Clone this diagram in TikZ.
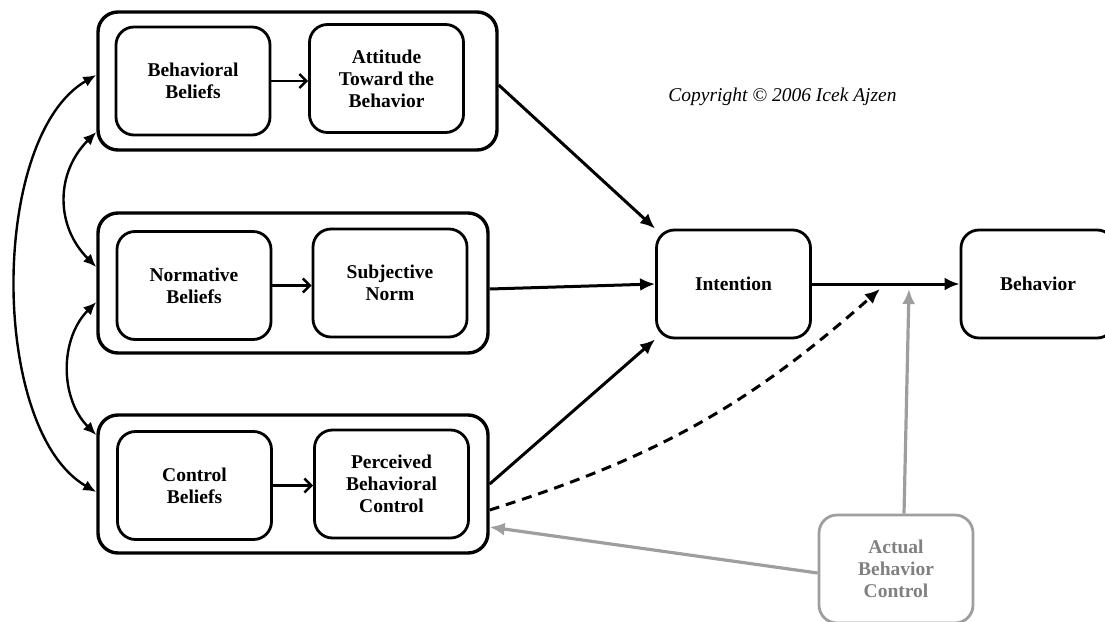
\documentclass[tikz,border=0pt]{standalone}
\usepackage{fontspec}
\setmainfont{Liberation Serif}
\usetikzlibrary{arrows.meta}
\definecolor{ActualGray}{RGB}{158,158,158}
\definecolor{ActualText}{RGB}{128,128,128}
\tikzset{
    GroupBox/.style={draw, line width=3.4pt, rounded corners=20pt},
    InnerBox/.style={draw, line width=2.8pt, rounded corners=18pt, align=center,
        minimum width=154pt, minimum height=108pt, inner sep=0pt,
        font=\bfseries\fontsize{19.5}{22}\selectfont},
    MainArrow/.style={line width=3pt, -{Latex[length=15pt,width=13pt]}},
    SmallArrow/.style={line width=2.4pt, -{Straight Barb[length=7pt,width=14pt]}},
    LinkArrow/.style={line width=2.4pt, {Latex[length=13pt,width=11pt]}-{Latex[length=13pt,width=11pt]}},
    GrayArrow/.style={line width=3.2pt, color=ActualGray, -{Latex[length=15pt,width=13pt]}}
}

\begin{document}
\begin{tikzpicture}[x=1pt,y=1pt]
    \useasboundingbox (0,0) rectangle (1105,-621);
    \node[GroupBox, minimum width=399pt, minimum height=138pt] (AttGroup) at (297.5,-81) {};
    \node[GroupBox, minimum width=390pt, minimum height=140pt] (NormGroup) at (293,-283) {};
    \node[GroupBox, minimum width=390pt, minimum height=138pt] (CtrlGroup) at (293,-484) {};
    \node[InnerBox] (BehBeliefs) at (193,-81) {Behavioral\\Beliefs};
    \node[InnerBox] (Attitude) at (386.5,-78.5) {Attitude\\Toward the\\Behavior};
    \node[InnerBox] (NormBeliefs) at (194,-285.5) {Normative\\Beliefs};
    \node[InnerBox] (SubjNorm) at (390,-283) {Subjective\\Norm};
    \node[InnerBox] (CtrlBeliefs) at (194.5,-485.5) {Control\\Beliefs};
    \node[InnerBox] (PercControl) at (391.5,-484) {Perceived\\Behavioral\\Control};
    \node[InnerBox] (Intention) at (733.5,-284) {Intention};
    \node[InnerBox] (Behavior) at (1038,-284) {Behavior};
    \node[InnerBox, draw=ActualGray, text=ActualText] (ActualCtrl) at (896,-569) {Actual\\Behavior\\Control};
    \node[font=\itshape\fontsize{19.5}{22}\selectfont] (Copyright) at (782.5,-97) {Copyright © 2006 Icek Ajzen};

    \draw[SmallArrow] (BehBeliefs.east) -- (BehBeliefs.east -| Attitude.west);
    \draw[SmallArrow] (NormBeliefs.east) -- (NormBeliefs.east -| SubjNorm.west);
    \draw[SmallArrow] (CtrlBeliefs.east) -- (CtrlBeliefs.east -| PercControl.west);

    \draw[MainArrow] ([yshift=-4pt]AttGroup.east) -- (Intention.north west);
    \draw[MainArrow] ([yshift=-6pt]NormGroup.east) -- (Intention.west);
    \draw[MainArrow] (CtrlGroup.east) -- (Intention.south west);
    \draw[MainArrow] (Intention.east) -- (Behavior.west);

    \coordinate (DashEnd) at (880,-289);
    \draw[MainArrow, dash pattern=on 10pt off 7pt] ([yshift=-26pt]CtrlGroup.east) to[bend right=12] (DashEnd);

    \begin{scope}[color=ActualGray]
        \coordinate (GrayEnd) at (909,-289);
        \draw[GrayArrow] ([xshift=8pt]ActualCtrl.north) -- (GrayEnd);
        \draw[GrayArrow] ([yshift=-4pt]ActualCtrl.west) -- ([yshift=-43pt]CtrlGroup.east);
    \end{scope}

    \draw[LinkArrow] ([yshift=6pt]AttGroup.west) to[out=210,in=150,looseness=0.76] ([yshift=-8pt]CtrlGroup.west);
    \draw[LinkArrow] ([yshift=-51pt]AttGroup.west) to[out=225,in=135,looseness=1.1] ([yshift=16pt]NormGroup.west);
    \draw[LinkArrow] ([yshift=-19pt]NormGroup.west) to[out=225,in=135,looseness=1] ([yshift=49pt]CtrlGroup.west);
\end{tikzpicture}
\end{document}
